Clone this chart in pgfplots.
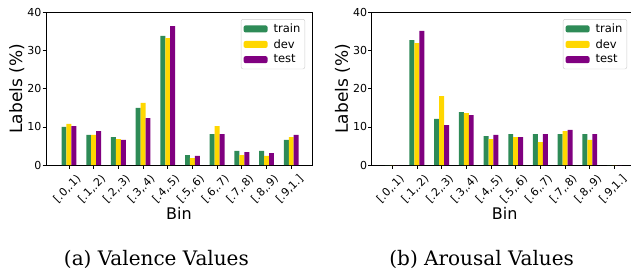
\documentclass[border=0pt]{standalone}
\usepackage{fontspec}
\usepackage{pgfplots}
\usepackage{pgfplotstable}
\pgfplotsset{compat=1.18}
\newfontfamily\dejavu{DejaVu Sans}
\newfontfamily\capfont{DejaVu Serif}
\definecolor{trainc}{HTML}{2E8B57}
\definecolor{devc}{HTML}{FFD700}
\definecolor{testc}{HTML}{800080}

\pgfplotstableread{
x train dev test
0 10.0 10.8 10.2
1 7.9 7.9 8.9
2 7.35 6.8 6.6
3 15.0 16.3 12.3
4 33.9 33.3 36.5
5 2.6 1.8 2.4
6 8.1 10.2 8.1
7 3.7 2.6 3.4
8 3.7 2.4 3.15
9 6.6 7.35 7.9
}\valence

\pgfplotstableread{
x train dev test
0 0 0 0
1 32.8 32.0 35.2
2 12.1 18.1 10.5
3 13.9 13.65 13.1
4 7.6 6.8 7.9
5 8.1 7.35 7.35
6 8.1 6.0 8.1
7 8.1 8.9 9.2
8 8.1 6.6 8.1
9 0 0 0
}\arousal

\pgfplotsset{
  binaxis/.style={
    scale only axis, width=266pt, height=152.3pt,
    anchor=south west,
    ymin=0, ymax=40, ytick={0,10,20,30,40},
    xtick={0,...,9},
    xticklabels={{[.0,.1)},{[.1,.2)},{[.2,.3)},{[.3,.4)},{[.4,.5)},{[.5,.6)},{[.6,.7)},{[.7,.8)},{[.8,.9)},{[.9,1.]}},
    ybar, bar width=0.2,
    axis line style={line width=0.8pt},
    tick style={black, line width=0.8pt},
    major tick length=3.5pt, tick align=outside,
    xtick pos=bottom, ytick pos=left,
    /pgf/number format/assume math mode=true,
    tick label style={font=\dejavu\fontsize{11}{13}\selectfont},
    yticklabel style={inner sep=1pt},
    xticklabel style={inner sep=0.5pt, xshift=6.5pt, yshift=-4.5pt, rotate=45, anchor=north east},
    xlabel={Bin},
    xlabel style={at={(axis description cs:0.5,-0.3546)}, anchor=base, font=\dejavu\fontsize{16}{19}\selectfont},
    ylabel={Labels (\%)},
    ylabel style={at={(axis description cs:-0.11,0.5)}, anchor=center, font=\dejavu\fontsize{17}{20}\selectfont},
    legend style={anchor=north east, draw=black!20, rounded corners=2pt,
      font=\dejavu\fontsize{11.5}{13}\selectfont, inner xsep=2.5pt, inner ysep=2.5pt, row sep=1.3pt,
      cells={anchor=west},
      /tikz/every odd column/.append style={column sep=4pt}},
    legend image code/.code={\fill[#1] (0pt,-3.5pt) rectangle (24pt,3.5pt);},
  }
}

\begin{document}
\begin{tikzpicture}
\begin{axis}[binaxis, at={(46pt,108pt)}, xmin=-0.93, xmax=9.84,
  legend style={at={(0.974,0.958)}}]
\addplot[fill=trainc, draw=none, bar shift=-0.2] table[x=x,y=train]{\valence};
\addplot[fill=devc, draw=none, bar shift=0] table[x=x,y=dev]{\valence};
\addplot[fill=testc, draw=none, bar shift=0.2] table[x=x,y=test]{\valence};
\legend{train,dev,test}
\end{axis}
\begin{axis}[binaxis, at={(371.7pt,108pt)}, xmin=-0.83, xmax=9.94,
  legend style={at={(0.96,0.958)}}]
\addplot[fill=trainc, draw=none, bar shift=-0.2] table[x=x,y=train]{\arousal};
\addplot[fill=devc, draw=none, bar shift=0] table[x=x,y=dev]{\arousal};
\addplot[fill=testc, draw=none, bar shift=0.2] table[x=x,y=test]{\arousal};
\legend{train,dev,test}
\end{axis}
\node[anchor=base, font=\capfont\fontsize{20}{24}\selectfont] at (156.4pt,8pt) {(a) Valence Values};
\node[anchor=base, font=\capfont\fontsize{20}{24}\selectfont] at (481.7pt,8pt) {(b) Arousal Values};
\pgfresetboundingbox
\path[use as bounding box] (0pt,0pt) rectangle (631pt,273pt);
\end{tikzpicture}
\end{document}
